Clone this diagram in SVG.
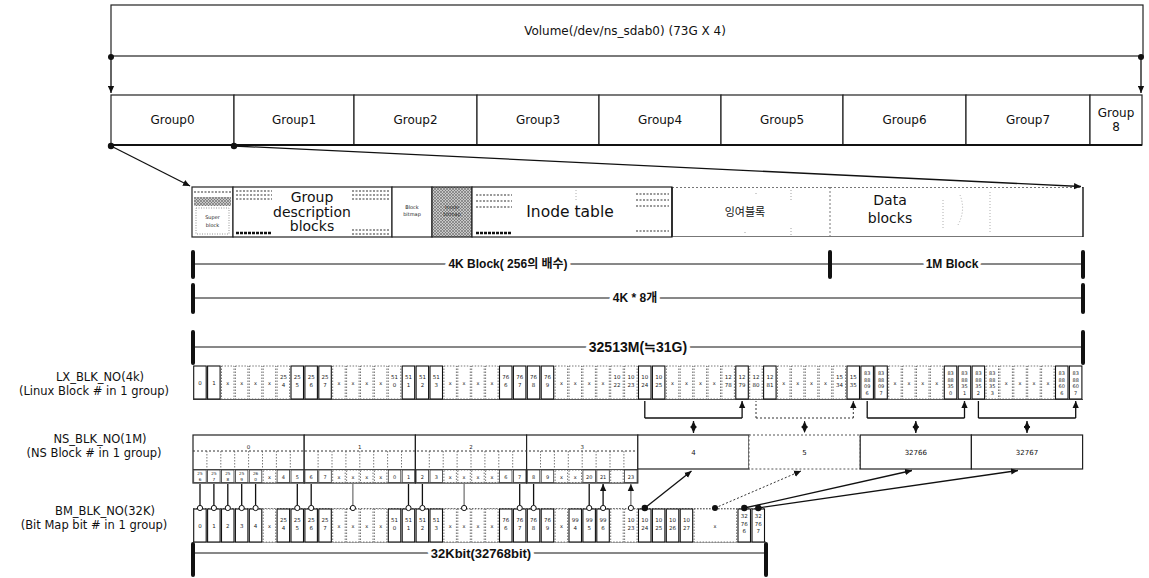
<svg xmlns="http://www.w3.org/2000/svg" width="1149" height="578" viewBox="0 0 1149 578">
<defs>
<style>
.ln{stroke:#111;fill:none;stroke-width:1.3}
.lnd{stroke:#333;fill:none;stroke-width:1;stroke-dasharray:2 2}
.thin{stroke:#222;fill:none;stroke-width:0.8}
.box{fill:#fff;stroke:#222;stroke-width:1.2}
.boxd{fill:#fff;stroke:#555;stroke-width:1;stroke-dasharray:2 2}
.lbl{font-family:"DejaVu Sans","Noto Sans CJK KR",sans-serif;fill:#111;text-anchor:middle}
.t{font-family:"DejaVu Sans",sans-serif;font-size:5.5px;fill:#222;text-anchor:middle}
.t5{font-family:"DejaVu Sans",sans-serif;font-size:5px;fill:#222;text-anchor:middle}
.t4{font-family:"DejaVu Sans",sans-serif;font-size:4.2px;fill:#222;text-anchor:middle}
.cs{fill:#fff;stroke:#111;stroke-width:1.1}
.cd{fill:#fff;stroke:#555;stroke-width:0.8;stroke-dasharray:1.5 1.5}
.cn{fill:#fff;stroke:#333;stroke-width:0.8}
.dim{font-family:"Liberation Sans","Noto Sans CJK KR",sans-serif;font-weight:bold;text-anchor:middle;fill:#111;stroke:#fff;stroke-width:7;paint-order:stroke;stroke-linejoin:round}
.bar{fill:#111}
.dash{stroke:#333;stroke-width:1.2;stroke-dasharray:2 1.5;fill:none}
</style>
<marker id="ah" viewBox="0 0 10 10" refX="10" refY="5" markerWidth="7" markerHeight="7" markerUnits="userSpaceOnUse" orient="auto-start-reverse"><path d="M0,0.5 L10,5 L0,9.5 z" fill="#111"/></marker>
<pattern id="hatch" width="3" height="3" patternUnits="userSpaceOnUse"><rect width="3" height="3" fill="#c8c8c8"/><path d="M0,0 L3,3 M3,0 L0,3" stroke="#666" stroke-width="0.6"/></pattern>
</defs>
<rect width="1149" height="578" fill="#fff"/>

<g id="volume">
<rect class="box" x="111" y="5" width="1032" height="51"/>
<text class="lbl" x="625" y="35" font-size="12">Volume(/dev/ns_sdab0) (73G X 4)</text>
</g>

<g id="group-row">
<g id="group0"><rect class="box" x="111" y="95" width="123" height="50"/><text class="lbl" x="172.5" y="124" font-size="12">Group0</text></g>
<g id="group1"><rect class="box" x="234" y="95" width="120" height="50"/><text class="lbl" x="294" y="124" font-size="12">Group1</text></g>
<g id="group2"><rect class="box" x="354" y="95" width="123" height="50"/><text class="lbl" x="415.5" y="124" font-size="12">Group2</text></g>
<g id="group3"><rect class="box" x="477" y="95" width="122" height="50"/><text class="lbl" x="538" y="124" font-size="12">Group3</text></g>
<g id="group4"><rect class="box" x="599" y="95" width="122" height="50"/><text class="lbl" x="660" y="124" font-size="12">Group4</text></g>
<g id="group5"><rect class="box" x="721" y="95" width="122" height="50"/><text class="lbl" x="782" y="124" font-size="12">Group5</text></g>
<g id="group6"><rect class="box" x="843" y="95" width="123" height="50"/><text class="lbl" x="904.5" y="124" font-size="12">Group6</text></g>
<g id="group7"><rect class="box" x="966" y="95" width="124" height="50"/><text class="lbl" x="1028" y="124" font-size="12">Group7</text></g>
<g id="group8"><rect class="box" x="1090" y="95" width="52" height="50"/><text class="lbl" x="1116" y="117" font-size="12">Group</text><text class="lbl" x="1116" y="131" font-size="12">8</text></g>
<line x1="111" y1="145" x2="1142" y2="145" stroke="#111" stroke-width="2"/>
</g>

<g id="group-detail">
<g id="super-block">
<rect class="box" x="192" y="187" width="41" height="50"/>
<rect x="194" y="197" width="37" height="9" fill="url(#hatch)"/>
<path class="dash" d="M194,192 H231"/>
<rect x="196" y="208" width="33" height="26" fill="none" stroke="#666" stroke-width="0.7" stroke-dasharray="1 1.5"/>
<text class="t5" x="212.5" y="219">Super</text><text class="t5" x="212.5" y="227">block</text>
</g>
<g id="group-desc">
<rect class="box" x="233" y="187" width="159" height="50"/>
<path class="dash" d="M236,191 H272 M236,195 H272 M236,199 H272 M352,191 H389 M352,195 H389 M352,199 H389 M352,230 H389 M352,234 H389"/>
<path d="M236,233 H272" stroke="#111" stroke-width="2.5" stroke-dasharray="3 1"/>
<text class="lbl" x="312" y="202" font-size="14">Group</text>
<text class="lbl" x="312" y="217" font-size="14">description</text>
<text class="lbl" x="312" y="231" font-size="14">blocks</text>
</g>
<g id="block-bitmap">
<rect class="box" x="392" y="187" width="40" height="50"/>
<text class="t5" x="412" y="209">Block</text><text class="t5" x="412" y="216">bitmap</text>
</g>
<g id="inode-bitmap">
<rect x="432" y="187" width="40" height="50" fill="url(#hatch)" stroke="#222" stroke-width="1.2"/>
<text class="t5" x="452" y="209">Inode</text><text class="t5" x="452" y="216">bitmap</text>
</g>
<g id="inode-table">
<rect class="box" x="472" y="187" width="200" height="50" stroke-width="1.6"/>
<path class="dash" d="M476,195 H512 M476,201 H512 M476,207 H512 M636,194 H669 M636,200 H669 M636,206 H669 M636,231 H669"/>
<path d="M476,233 H512" stroke="#111" stroke-width="2.5" stroke-dasharray="3 1"/>
<path d="M576,190 V200" stroke="#999" stroke-width="0.8" stroke-dasharray="1 2"/>
<text class="lbl" x="570" y="217" font-size="15.5">Inode table</text>
</g>
<g id="spare-blocks">
<path d="M672,187.5 H830" stroke="#777" stroke-width="1" stroke-dasharray="2 2"/>
<path d="M672,236.5 H830" stroke="#777" stroke-width="1"/>
<line x1="672" y1="187" x2="672" y2="237" stroke="#111" stroke-width="1.4"/>
<path d="M791,190 V200 M791,228 V236 M756,193 V196 M745,232 V234" stroke="#888" stroke-width="0.8" stroke-dasharray="1 2"/>
<text class="lbl" x="745" y="216" font-size="11" fill="#444">잉여블록</text>
</g>
<g id="data-blocks">
<path d="M830,187.5 H1083" stroke="#777" stroke-width="1" stroke-dasharray="2 2"/>
<path d="M830,236.5 H1083" stroke="#777" stroke-width="1"/>
<line x1="830" y1="187" x2="830" y2="237" stroke="#777" stroke-width="1" stroke-dasharray="2 2"/>
<line x1="1083" y1="187" x2="1083" y2="237" stroke="#111" stroke-width="1.4"/>
<path d="M990,192 V234 M943,200 V230 M960,195 Q966,210 958,225" stroke="#999" stroke-width="0.8" stroke-dasharray="1 2" fill="none"/>
<text class="lbl" x="890" y="205" font-size="14">Data</text>
<text class="lbl" x="890" y="223" font-size="14">blocks</text>
</g>
</g>

<g id="dimensions">
<line x1="193" y1="264" x2="1083" y2="264" stroke="#111" stroke-width="1"/>
<rect class="bar" x="191" y="250" width="4" height="29" rx="2"/>
<rect class="bar" x="828" y="250" width="4" height="29" rx="2"/>
<rect class="bar" x="1081" y="250" width="4" height="29" rx="2"/>
<text class="dim" x="508" y="268" font-size="12">4K Block( 256의 배수)</text>
<text class="dim" x="952" y="268" font-size="12">1M Block</text>
<line x1="193" y1="298" x2="1083" y2="298" stroke="#111" stroke-width="1"/>
<rect class="bar" x="191" y="283" width="4" height="31" rx="2"/>
<rect class="bar" x="1081" y="283" width="4" height="31" rx="2"/>
<text class="dim" x="635" y="302" font-size="12">4K * 8개</text>
<line x1="193" y1="347" x2="1083" y2="347" stroke="#111" stroke-width="1"/>
<rect class="bar" x="191" y="330" width="4" height="35" rx="2"/>
<rect class="bar" x="1081" y="330" width="4" height="35" rx="2"/>
<text class="dim" x="638" y="352" font-size="14">32513M(≒31G)</text>
<line x1="193" y1="553" x2="766" y2="553" stroke="#111" stroke-width="1"/>
<rect class="bar" x="191" y="542" width="4" height="35" rx="2"/>
<rect class="bar" x="764" y="542" width="4" height="35" rx="2"/>
<text class="dim" x="481" y="558" font-size="13">32Kbit(32768bit)</text>
</g>

<g id="row-labels">
<text class="lbl" x="100" y="381" font-size="11.5">LX_BLK_NO(4k)</text>
<text class="lbl" x="94" y="395" font-size="11.5">(Linux Block # in 1 group)</text>
<text class="lbl" x="100" y="443" font-size="11.5">NS_BLK_NO(1M)</text>
<text class="lbl" x="94" y="457" font-size="11.5">(NS Block #  in 1 group)</text>
<text class="lbl" x="105" y="515" font-size="11.5">BM_BLK_NO(32K)</text>
<text class="lbl" x="94" y="529" font-size="11.5">(Bit Map bit # in 1 group)</text>
</g>

<g id="lx-row">
<line x1="193" y1="399.5" x2="1083" y2="399.5" stroke="#333" stroke-width="0.8"/>
<rect class="cs" x="193.7" y="366" width="12.5" height="33"/>
<rect class="cs" x="207.6" y="366" width="12.5" height="33"/>
<rect class="cd" x="221.5" y="366" width="12.5" height="33"/>
<rect class="cd" x="235.4" y="366" width="12.5" height="33"/>
<rect class="cd" x="249.3" y="366" width="12.5" height="33"/>
<rect class="cd" x="263.2" y="366" width="12.5" height="33"/>
<rect class="cd" x="277.1" y="366" width="12.5" height="33"/>
<rect class="cs" x="291.0" y="366" width="12.5" height="33"/>
<rect class="cs" x="304.9" y="366" width="12.5" height="33"/>
<rect class="cs" x="318.8" y="366" width="12.5" height="33"/>
<rect class="cd" x="332.7" y="366" width="12.5" height="33"/>
<rect class="cd" x="346.6" y="366" width="12.5" height="33"/>
<rect class="cd" x="360.5" y="366" width="12.5" height="33"/>
<rect class="cd" x="374.4" y="366" width="12.5" height="33"/>
<rect class="cd" x="388.3" y="366" width="12.5" height="33"/>
<rect class="cs" x="402.2" y="366" width="12.5" height="33"/>
<rect class="cs" x="416.1" y="366" width="12.5" height="33"/>
<rect class="cs" x="430.0" y="366" width="12.5" height="33"/>
<rect class="cd" x="443.9" y="366" width="12.5" height="33"/>
<rect class="cd" x="457.8" y="366" width="12.5" height="33"/>
<rect class="cd" x="471.7" y="366" width="12.5" height="33"/>
<rect class="cd" x="485.6" y="366" width="12.5" height="33"/>
<rect class="cs" x="499.5" y="366" width="12.5" height="33"/>
<rect class="cs" x="513.4" y="366" width="12.5" height="33"/>
<rect class="cs" x="527.3" y="366" width="12.5" height="33"/>
<rect class="cs" x="541.2" y="366" width="12.5" height="33"/>
<rect class="cd" x="555.1" y="366" width="12.5" height="33"/>
<rect class="cd" x="569.0" y="366" width="12.5" height="33"/>
<rect class="cd" x="582.9" y="366" width="12.5" height="33"/>
<rect class="cd" x="596.8" y="366" width="12.5" height="33"/>
<rect class="cd" x="610.7" y="366" width="12.5" height="33"/>
<rect class="cd" x="624.6" y="366" width="12.5" height="33"/>
<rect class="cs" x="638.5" y="366" width="12.5" height="33" stroke-width="1.6"/>
<rect class="cs" x="652.4" y="366" width="12.5" height="33"/>
<rect class="cd" x="666.3" y="366" width="12.5" height="33"/>
<rect class="cd" x="680.2" y="366" width="12.5" height="33"/>
<rect class="cd" x="694.1" y="366" width="12.5" height="33"/>
<rect class="cd" x="708.0" y="366" width="12.5" height="33"/>
<rect class="cd" x="721.9" y="366" width="12.5" height="33"/>
<rect class="cs" x="735.8" y="366" width="12.5" height="33" stroke-width="1.6"/>
<rect class="cd" x="749.7" y="366" width="12.5" height="33"/>
<rect class="cs" x="763.6" y="366" width="12.5" height="33"/>
<rect class="cd" x="777.5" y="366" width="12.5" height="33"/>
<rect class="cd" x="791.4" y="366" width="12.5" height="33"/>
<rect class="cd" x="805.3" y="366" width="12.5" height="33"/>
<rect class="cd" x="819.2" y="366" width="12.5" height="33"/>
<rect class="cd" x="833.1" y="366" width="12.5" height="33"/>
<rect class="cs" x="847.0" y="366" width="12.5" height="33"/>
<rect class="cs" x="860.9" y="366" width="12.5" height="33"/>
<rect class="cs" x="874.8" y="366" width="12.5" height="33"/>
<rect class="cd" x="888.7" y="366" width="12.5" height="33"/>
<rect class="cd" x="902.6" y="366" width="12.5" height="33"/>
<rect class="cd" x="916.5" y="366" width="12.5" height="33"/>
<rect class="cd" x="930.4" y="366" width="12.5" height="33"/>
<rect class="cs" x="944.3" y="366" width="12.5" height="33" stroke-width="1.6"/>
<rect class="cs" x="958.2" y="366" width="12.5" height="33"/>
<rect class="cs" x="972.1" y="366" width="12.5" height="33" stroke-width="1.6"/>
<rect class="cd" x="986.0" y="366" width="12.5" height="33"/>
<rect class="cd" x="999.9" y="366" width="12.5" height="33"/>
<rect class="cd" x="1013.8" y="366" width="12.5" height="33"/>
<rect class="cd" x="1027.7" y="366" width="12.5" height="33"/>
<rect class="cd" x="1041.6" y="366" width="12.5" height="33"/>
<rect class="cs" x="1055.5" y="366" width="12.5" height="33" stroke-width="1.6"/>
<rect class="cs" x="1069.4" y="366" width="12.5" height="33"/>
<text class="t" x="200" y="385">0</text>
<text class="t" x="213.9" y="385">1</text>
<text class="t5" x="227.8" y="385">x</text><text class="t5" x="241.7" y="385">x</text><text class="t5" x="255.6" y="385">x</text><text class="t5" x="269.5" y="385">x</text>
<text class="t5" x="339.0" y="385">x</text><text class="t5" x="352.9" y="385">x</text><text class="t5" x="366.8" y="385">x</text><text class="t5" x="380.7" y="385">x</text>
<text class="t5" x="450.2" y="385">x</text><text class="t5" x="464.1" y="385">x</text><text class="t5" x="478.0" y="385">x</text><text class="t5" x="491.9" y="385">x</text>
<text class="t5" x="561.4" y="385">x</text><text class="t5" x="575.3" y="385">x</text><text class="t5" x="589.2" y="385">x</text><text class="t5" x="603.1" y="385">x</text>
<text class="t5" x="672.6" y="385">x</text><text class="t5" x="686.5" y="385">x</text><text class="t5" x="700.4" y="385">x</text><text class="t5" x="714.3" y="385">x</text>
<text class="t5" x="783.8" y="385">x</text><text class="t5" x="797.7" y="385">x</text><text class="t5" x="811.6" y="385">x</text><text class="t5" x="825.5" y="385">x</text>
<text class="t5" x="895.0" y="385">x</text><text class="t5" x="908.9" y="385">x</text><text class="t5" x="922.8" y="385">x</text><text class="t5" x="936.7" y="385">x</text>
<text class="t5" x="1006.2" y="385">x</text><text class="t5" x="1020.1" y="385">x</text><text class="t5" x="1034.0" y="385">x</text><text class="t5" x="1047.9" y="385">x</text>
<text class="t" x="283.4" y="379">25<tspan x="283.4" dy="8">4</tspan></text>
<text class="t" x="297.3" y="379">25<tspan x="297.3" dy="8">5</tspan></text>
<text class="t" x="311.2" y="379">25<tspan x="311.2" dy="8">6</tspan></text>
<text class="t" x="325.1" y="379">25<tspan x="325.1" dy="8">7</tspan></text>
<text class="t" x="394.6" y="379">51<tspan x="394.6" dy="8">0</tspan></text>
<text class="t" x="408.5" y="379">51<tspan x="408.5" dy="8">1</tspan></text>
<text class="t" x="422.4" y="379">51<tspan x="422.4" dy="8">2</tspan></text>
<text class="t" x="436.3" y="379">51<tspan x="436.3" dy="8">3</tspan></text>
<text class="t" x="505.8" y="379">76<tspan x="505.8" dy="8">6</tspan></text>
<text class="t" x="519.7" y="379">76<tspan x="519.7" dy="8">7</tspan></text>
<text class="t" x="533.6" y="379">76<tspan x="533.6" dy="8">8</tspan></text>
<text class="t" x="547.5" y="379">76<tspan x="547.5" dy="8">9</tspan></text>
<text class="t" x="617.0" y="379">10<tspan x="617.0" dy="8">22</tspan></text>
<text class="t" x="630.9" y="379">10<tspan x="630.9" dy="8">23</tspan></text>
<text class="t" x="644.8" y="379">10<tspan x="644.8" dy="8">24</tspan></text>
<text class="t" x="658.7" y="379">10<tspan x="658.7" dy="8">25</tspan></text>
<text class="t" x="728.2" y="379">12<tspan x="728.2" dy="8">78</tspan></text>
<text class="t" x="742.1" y="379">12<tspan x="742.1" dy="8">79</tspan></text>
<text class="t" x="756.0" y="379">12<tspan x="756.0" dy="8">80</tspan></text>
<text class="t" x="769.9" y="379">12<tspan x="769.9" dy="8">81</tspan></text>
<text class="t" x="839.4" y="379">15<tspan x="839.4" dy="8">34</tspan></text>
<text class="t" x="853.3" y="379">15<tspan x="853.3" dy="8">35</tspan></text>
<text class="t5" x="867.2" y="375">83<tspan x="867.2" dy="6.5">88</tspan><tspan x="867.2" dy="6.5">09</tspan><tspan x="867.2" dy="6.5">6</tspan></text>
<text class="t5" x="881.1" y="375">83<tspan x="881.1" dy="6.5">88</tspan><tspan x="881.1" dy="6.5">09</tspan><tspan x="881.1" dy="6.5">7</tspan></text>
<text class="t5" x="950.6" y="375">83<tspan x="950.6" dy="6.5">88</tspan><tspan x="950.6" dy="6.5">35</tspan><tspan x="950.6" dy="6.5">0</tspan></text>
<text class="t5" x="964.5" y="375">83<tspan x="964.5" dy="6.5">88</tspan><tspan x="964.5" dy="6.5">35</tspan><tspan x="964.5" dy="6.5">1</tspan></text>
<text class="t5" x="978.4" y="375">83<tspan x="978.4" dy="6.5">88</tspan><tspan x="978.4" dy="6.5">35</tspan><tspan x="978.4" dy="6.5">2</tspan></text>
<text class="t5" x="992.3" y="375">83<tspan x="992.3" dy="6.5">88</tspan><tspan x="992.3" dy="6.5">35</tspan><tspan x="992.3" dy="6.5">3</tspan></text>
<text class="t5" x="1061.8" y="375">83<tspan x="1061.8" dy="6.5">88</tspan><tspan x="1061.8" dy="6.5">60</tspan><tspan x="1061.8" dy="6.5">6</tspan></text>
<text class="t5" x="1075.7" y="375">83<tspan x="1075.7" dy="6.5">88</tspan><tspan x="1075.7" dy="6.5">60</tspan><tspan x="1075.7" dy="6.5">7</tspan></text>
</g>

<g id="ns-row">
<g id="ns-block0"><rect class="box" x="193" y="435" width="111.2" height="48" stroke-width="1.5"/><text class="t" x="248.6" y="449">0</text></g>
<g id="ns-block1"><rect class="box" x="304.2" y="435" width="111.2" height="48" stroke-width="1.5"/><text class="t" x="359.8" y="449">1</text></g>
<g id="ns-block2"><rect class="box" x="415.4" y="435" width="111.2" height="48" stroke-width="1.5"/><text class="t" x="471" y="449">2</text></g>
<g id="ns-block3"><rect class="box" x="526.6" y="435" width="111.2" height="48" stroke-width="1.5"/><text class="t" x="582.2" y="449">3</text></g>
<path class="lnd" d="M193,451 H637.8"/>
<path d="M206.9,451V469M220.8,451V469M234.7,451V469M248.6,451V469M262.5,451V469M276.4,451V469M290.3,451V469M318.1,451V469M332,451V469M345.9,451V469M359.8,451V469M373.7,451V469M387.6,451V469M401.5,451V469M429.3,451V469M443.2,451V469M457.1,451V469M471,451V469M484.9,451V469M498.8,451V469M512.7,451V469M540.5,451V469M554.4,451V469M568.3,451V469M582.2,451V469M596.1,451V469M610,451V469M623.9,451V469" stroke="#555" stroke-width="0.8" stroke-dasharray="1.5 1.5"/>
<path class="thin" d="M193,469.5 H637.8"/>
<g id="ns-small-cells">
<rect class="cn" x="193.7" y="470" width="12.5" height="12.5"/><rect class="cn" x="207.6" y="470" width="12.5" height="12.5"/><rect class="cn" x="221.5" y="470" width="12.5" height="12.5"/><rect class="cn" x="235.4" y="470" width="12.5" height="12.5"/><rect class="cn" x="249.3" y="470" width="12.5" height="12.5"/><rect class="cd" x="263.2" y="470" width="12.5" height="12.5"/><rect class="cn" x="277.1" y="470" width="12.5" height="12.5"/><rect class="cn" x="291.0" y="470" width="12.5" height="12.5"/>
<rect class="cn" x="304.9" y="470" width="12.5" height="12.5"/><rect class="cn" x="318.8" y="470" width="12.5" height="12.5"/><rect class="cd" x="332.7" y="470" width="12.5" height="12.5"/><rect class="cd" x="346.6" y="470" width="12.5" height="12.5"/><rect class="cd" x="360.5" y="470" width="12.5" height="12.5"/><rect class="cd" x="374.4" y="470" width="12.5" height="12.5"/><rect class="cn" x="388.3" y="470" width="12.5" height="12.5"/><rect class="cn" x="402.2" y="470" width="12.5" height="12.5"/>
<rect class="cn" x="416.1" y="470" width="12.5" height="12.5"/><rect class="cn" x="430.0" y="470" width="12.5" height="12.5"/><rect class="cd" x="443.9" y="470" width="12.5" height="12.5"/><rect class="cd" x="457.8" y="470" width="12.5" height="12.5"/><rect class="cd" x="471.7" y="470" width="12.5" height="12.5"/><rect class="cd" x="485.6" y="470" width="12.5" height="12.5"/><rect class="cn" x="499.5" y="470" width="12.5" height="12.5"/><rect class="cn" x="513.4" y="470" width="12.5" height="12.5"/>
<rect class="cn" x="527.3" y="470" width="12.5" height="12.5"/><rect class="cn" x="541.2" y="470" width="12.5" height="12.5"/><rect class="cd" x="555.1" y="470" width="12.5" height="12.5"/><rect class="cd" x="569.0" y="470" width="12.5" height="12.5"/><rect class="cn" x="582.9" y="470" width="12.5" height="12.5"/><rect class="cn" x="596.8" y="470" width="12.5" height="12.5"/><rect class="cd" x="610.7" y="470" width="12.5" height="12.5"/><rect class="cn" x="624.6" y="470" width="12.5" height="12.5"/>
<text class="t4" x="200" y="475">25<tspan x="200" dy="5.6">6</tspan></text>
<text class="t4" x="213.9" y="475">25<tspan x="213.9" dy="5.6">7</tspan></text>
<text class="t4" x="227.8" y="475">25<tspan x="227.8" dy="5.6">8</tspan></text>
<text class="t4" x="241.7" y="475">25<tspan x="241.7" dy="5.6">9</tspan></text>
<text class="t4" x="255.6" y="475">26<tspan x="255.6" dy="5.6">0</tspan></text>
<text class="t5" x="283.4" y="479">4</text><text class="t5" x="297.3" y="479">5</text><text class="t5" x="311.2" y="479">6</text><text class="t5" x="325.1" y="479">7</text>
<text class="t5" x="394.6" y="479">0</text><text class="t5" x="408.5" y="479">1</text><text class="t5" x="422.4" y="479">2</text><text class="t5" x="436.3" y="479">3</text>
<text class="t5" x="505.8" y="479">6</text><text class="t5" x="519.7" y="479">7</text><text class="t5" x="533.6" y="479">8</text><text class="t5" x="547.5" y="479">9</text>
<text class="t5" x="269.5" y="479">x</text><text class="t5" x="339.0" y="479">x</text><text class="t5" x="352.9" y="479">x</text><text class="t5" x="366.8" y="479">x</text><text class="t5" x="380.7" y="479">x</text><text class="t5" x="450.2" y="479">x</text><text class="t5" x="464.1" y="479">x</text><text class="t5" x="478.0" y="479">x</text><text class="t5" x="491.9" y="479">x</text><text class="t5" x="561.4" y="479">x</text><text class="t5" x="575.3" y="479">x</text>
<text class="t5" x="589.2" y="479">20</text>
<text class="t5" x="603.1" y="479">21</text>
<text class="t5" x="630.9" y="479">23</text>
</g>
<g id="ns-block4"><rect class="box" x="637.8" y="435" width="111.2" height="34" stroke-width="1.5"/><text class="lbl" x="693.4" y="455" font-size="7">4</text></g>
<g id="ns-block5"><rect class="boxd" x="749" y="435" width="111.2" height="34"/><text class="lbl" x="804.6" y="455" font-size="7">5</text></g>
<g id="ns-block32766"><rect class="box" x="860.2" y="435" width="111.2" height="34" stroke-width="1.5"/><text class="lbl" x="915.8" y="455" font-size="7">32766</text></g>
<g id="ns-block32767"><rect class="box" x="971.4" y="435" width="111.2" height="34" stroke-width="1.5"/><text class="lbl" x="1027" y="455" font-size="7">32767</text></g>
</g>

<g id="bm-row">
<path d="M193,508.5 H766" stroke="#555" stroke-width="0.8" stroke-dasharray="1.5 1.5"/>
<line x1="193" y1="542" x2="766" y2="542" stroke="#333" stroke-width="0.8"/>
<rect class="cs" x="193.7" y="509" width="12.5" height="33"/>
<rect class="cs" x="207.6" y="509" width="12.5" height="33"/>
<rect class="cs" x="221.5" y="509" width="12.5" height="33"/>
<rect class="cs" x="235.4" y="509" width="12.5" height="33"/>
<rect class="cs" x="249.3" y="509" width="12.5" height="33"/>
<rect class="cd" x="263.2" y="509" width="12.5" height="33"/>
<rect class="cs" x="277.1" y="509" width="12.5" height="33"/>
<rect class="cs" x="291.0" y="509" width="12.5" height="33"/>
<rect class="cs" x="304.9" y="509" width="12.5" height="33"/>
<rect class="cs" x="318.8" y="509" width="12.5" height="33"/>
<rect class="cd" x="332.7" y="509" width="12.5" height="33"/>
<rect class="cd" x="346.6" y="509" width="12.5" height="33"/>
<rect class="cd" x="360.5" y="509" width="12.5" height="33"/>
<rect class="cd" x="374.4" y="509" width="12.5" height="33"/>
<rect class="cs" x="388.3" y="509" width="12.5" height="33"/>
<rect class="cs" x="402.2" y="509" width="12.5" height="33"/>
<rect class="cs" x="416.1" y="509" width="12.5" height="33"/>
<rect class="cs" x="430.0" y="509" width="12.5" height="33"/>
<rect class="cd" x="443.9" y="509" width="12.5" height="33"/>
<rect class="cd" x="457.8" y="509" width="12.5" height="33"/>
<rect class="cd" x="471.7" y="509" width="12.5" height="33"/>
<rect class="cd" x="485.6" y="509" width="12.5" height="33"/>
<rect class="cs" x="499.5" y="509" width="12.5" height="33"/>
<rect class="cs" x="513.4" y="509" width="12.5" height="33"/>
<rect class="cs" x="527.3" y="509" width="12.5" height="33"/>
<rect class="cs" x="541.2" y="509" width="12.5" height="33"/>
<rect class="cd" x="555.1" y="509" width="12.5" height="33"/>
<rect class="cs" x="569.0" y="509" width="12.5" height="33"/>
<rect class="cs" x="582.9" y="509" width="12.5" height="33"/>
<rect class="cs" x="596.8" y="509" width="12.5" height="33"/>
<rect class="cd" x="610.7" y="509" width="12.5" height="33"/>
<rect class="cd" x="624.6" y="509" width="12.5" height="33"/>
<rect class="cs" x="638.5" y="509" width="12.5" height="33" stroke-width="1.6"/>
<rect class="cs" x="652.4" y="509" width="12.5" height="33" stroke-width="1.6"/>
<rect class="cs" x="666.3" y="509" width="12.5" height="33" stroke-width="1.6"/>
<rect class="cs" x="680.2" y="509" width="12.5" height="33" stroke-width="1.6"/>
<rect class="cd" x="694.1" y="509" width="42.5" height="33"/>
<rect class="cs" x="738" y="509" width="12.5" height="33" stroke-width="1.6"/>
<rect class="cs" x="752" y="509" width="12.5" height="33" stroke-width="1.6"/>
<text class="t" x="200" y="528">0</text><text class="t" x="213.9" y="528">1</text><text class="t" x="227.8" y="528">2</text><text class="t" x="241.7" y="528">3</text><text class="t" x="255.6" y="528">4</text>
<text class="t5" x="269.5" y="528">x</text><text class="t5" x="339.0" y="528">x</text><text class="t5" x="352.9" y="528">x</text><text class="t5" x="366.8" y="528">x</text><text class="t5" x="380.7" y="528">x</text><text class="t5" x="450.2" y="528">x</text><text class="t5" x="464.1" y="528">x</text><text class="t5" x="478.0" y="528">x</text><text class="t5" x="491.9" y="528">x</text><text class="t5" x="561.4" y="528">x</text><text class="t5" x="715" y="528">x</text>
<text class="t" x="283.4" y="522">25<tspan x="283.4" dy="8">4</tspan></text>
<text class="t" x="297.3" y="522">25<tspan x="297.3" dy="8">5</tspan></text>
<text class="t" x="311.2" y="522">25<tspan x="311.2" dy="8">6</tspan></text>
<text class="t" x="325.1" y="522">25<tspan x="325.1" dy="8">7</tspan></text>
<text class="t" x="394.6" y="522">51<tspan x="394.6" dy="8">0</tspan></text>
<text class="t" x="408.5" y="522">51<tspan x="408.5" dy="8">1</tspan></text>
<text class="t" x="422.4" y="522">51<tspan x="422.4" dy="8">2</tspan></text>
<text class="t" x="436.3" y="522">51<tspan x="436.3" dy="8">3</tspan></text>
<text class="t" x="505.8" y="522">76<tspan x="505.8" dy="8">6</tspan></text>
<text class="t" x="519.7" y="522">76<tspan x="519.7" dy="8">7</tspan></text>
<text class="t" x="533.6" y="522">76<tspan x="533.6" dy="8">8</tspan></text>
<text class="t" x="547.5" y="522">76<tspan x="547.5" dy="8">9</tspan></text>
<text class="t" x="575.3" y="522">99<tspan x="575.3" dy="8">4</tspan></text>
<text class="t" x="589.2" y="522">99<tspan x="589.2" dy="8">5</tspan></text>
<text class="t" x="603.1" y="522">99<tspan x="603.1" dy="8">6</tspan></text>
<text class="t" x="630.9" y="522">10<tspan x="630.9" dy="8">23</tspan></text>
<text class="t" x="644.8" y="522">10<tspan x="644.8" dy="8">24</tspan></text>
<text class="t" x="658.7" y="522">10<tspan x="658.7" dy="8">25</tspan></text>
<text class="t" x="672.6" y="522">10<tspan x="672.6" dy="8">26</tspan></text>
<text class="t" x="686.5" y="522">10<tspan x="686.5" dy="8">27</tspan></text>
<text class="t" x="744.3" y="518">32<tspan x="744.3" dy="7.5">76</tspan><tspan x="744.3" dy="7.5">6</tspan></text>
<text class="t" x="758.3" y="518">32<tspan x="758.3" dy="7.5">76</tspan><tspan x="758.3" dy="7.5">7</tspan></text>
</g>

<g id="connectors">
<g id="volume-to-groups">
<path class="ln" d="M111,57 V93" marker-end="url(#ah)"/><circle cx="111" cy="57" r="3" fill="#111"/>
<path class="ln" d="M1141,57 V93" marker-end="url(#ah)"/><circle cx="1141" cy="57" r="3" fill="#111"/>
</g>
<g id="group0-zoom">
<path class="ln" d="M111,146 L190,186" marker-end="url(#ah)"/><circle cx="111" cy="146" r="3.2" fill="#111"/>
<path class="ln" d="M234,146 L1081,186.5" marker-end="url(#ah)" stroke-width="1.6"/><circle cx="234" cy="146" r="3.2" fill="#111"/>
</g>
<g id="lx-to-ns">
<path class="ln" d="M644.8,418 V401 M742.1,418 V401" marker-end="url(#ah)"/>
<path class="ln" d="M644.8,418 H742.1"/>
<path class="ln" d="M693.5,421 V433" marker-start="url(#ah)" marker-end="url(#ah)" stroke-width="2"/>
<path class="lnd" d="M756,418 V401 M853.3,418 V401" marker-end="url(#ah)"/>
<path class="lnd" d="M756,418 H853.3"/>
<path class="lnd" d="M804.6,421 V433" marker-start="url(#ah)" marker-end="url(#ah)"/>
<path class="ln" d="M867.2,418 V401 M964.5,418 V401" marker-end="url(#ah)"/>
<path class="ln" d="M867.2,418 H964.5"/>
<path class="ln" d="M915.8,421 V433" marker-start="url(#ah)" marker-end="url(#ah)" stroke-width="2"/>
<path class="ln" d="M978.4,418 V401 M1075.7,418 V401" marker-end="url(#ah)"/>
<path class="ln" d="M978.4,418 H1075.7"/>
<path class="ln" d="M1027,421 V433" marker-start="url(#ah)" marker-end="url(#ah)" stroke-width="2"/>
</g>
<g id="bm-to-ns">
<path class="ln" stroke-width="1.6" d="M200,505.5V484 M213.9,505.5V484 M227.8,505.5V484 M241.7,505.5V484 M255.6,505.5V484 M297.3,505.5V484 M311.2,505.5V484 M408.5,505.5V484 M422.4,505.5V484 M519.7,505.5V484 M533.6,505.5V484 M589.2,505.5V484 M603.1,505.5V484" marker-end="url(#ah)"/>
<path class="thin" d="M352.9,505.5V484 M464.1,505.5V484 M630.9,505.5V484" marker-end="url(#ah)"/>
<g fill="#fff" stroke="#111" stroke-width="1">
<circle cx="200" cy="508" r="2.6"/><circle cx="213.9" cy="508" r="2.6"/><circle cx="227.8" cy="508" r="2.6"/><circle cx="241.7" cy="508" r="2.6"/><circle cx="255.6" cy="508" r="2.6"/><circle cx="297.3" cy="508" r="2.6"/><circle cx="311.2" cy="508" r="2.6"/><circle cx="352.9" cy="508" r="2.6"/><circle cx="408.5" cy="508" r="2.6"/><circle cx="422.4" cy="508" r="2.6"/><circle cx="464.1" cy="508" r="2.6"/><circle cx="519.7" cy="508" r="2.6"/><circle cx="533.6" cy="508" r="2.6"/><circle cx="589.2" cy="508" r="2.6"/><circle cx="603.1" cy="508" r="2.6"/><circle cx="630.9" cy="508" r="2.6"/>
</g>
</g>
<g id="bm-to-ns-1m">
<path class="ln" d="M644.8,508 L691.5,471" marker-end="url(#ah)" stroke-width="1.5"/>
<path class="lnd" d="M715,508 L801,471" marker-end="url(#ah)"/>
<path class="ln" d="M744.3,508 L912,470.5" marker-end="url(#ah)" stroke-width="1.5"/>
<path class="ln" d="M758.3,508 L1018,470.5" marker-end="url(#ah)" stroke-width="1.5"/>
<circle cx="644.8" cy="508" r="3.2" fill="#111"/><circle cx="715" cy="508" r="3" fill="#111"/><circle cx="744.3" cy="508" r="3.2" fill="#111"/><circle cx="758.3" cy="508" r="3.2" fill="#111"/>
</g>
</g>
</svg>
